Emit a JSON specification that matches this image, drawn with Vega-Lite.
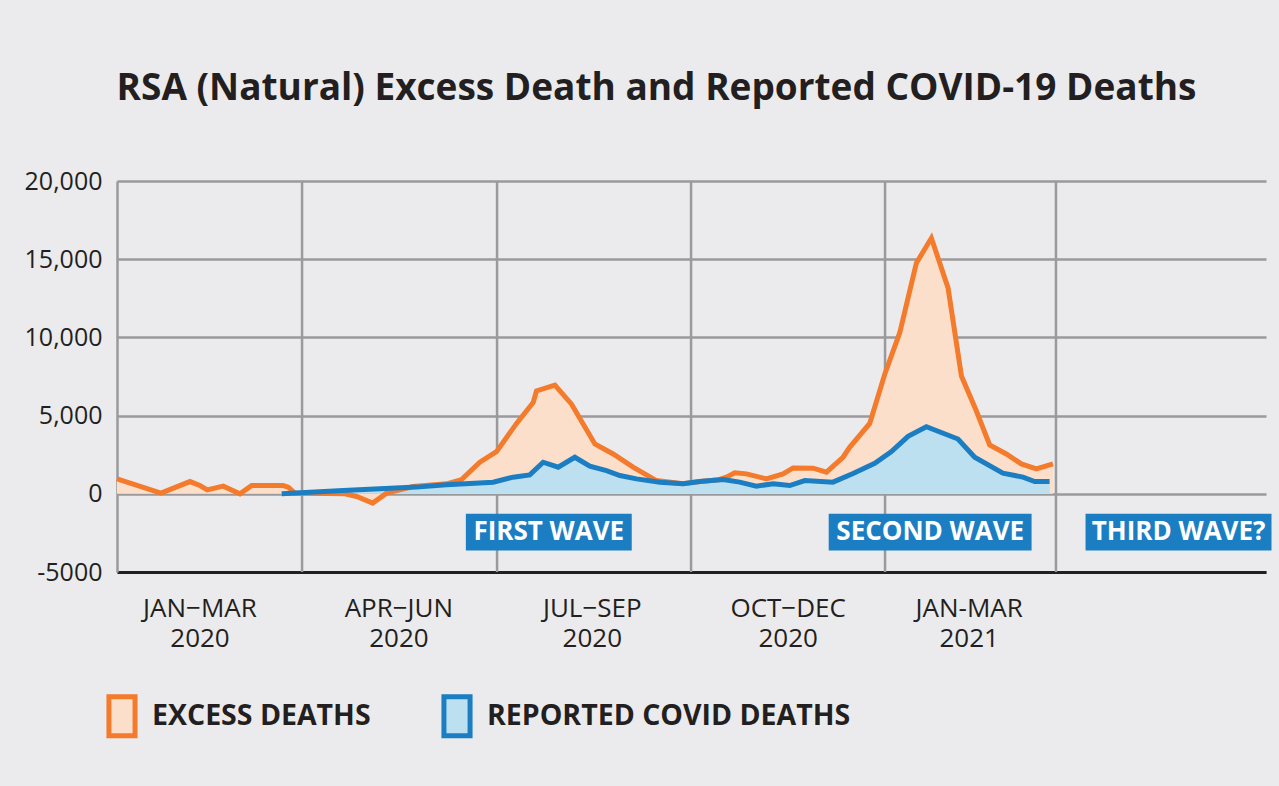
{
  "$schema": "https://vega.github.io/schema/vega-lite/v6.json",
  "width": 1149,
  "height": 391,
  "autosize": "none",
  "padding": {"left": 117, "top": 181, "right": 13, "bottom": 214},
  "background": "#ebebed",
  "view": {"stroke": null},
  "config": {"font": "Open Sans"},
  "title": {
    "text": "RSA (Natural) Excess Death and Reported COVID-19 Deaths",
    "font": "Open Sans",
    "fontSize": 37,
    "fontWeight": "bold",
    "color": "#231f20",
    "anchor": "middle",
    "dx": -35,
    "offset": 61
  },
  "datasets": {
    "series": [
      {"series": "EXCESS DEATHS", "x": 0, "y": 955},
      {"series": "EXCESS DEATHS", "x": 2.96, "y": 45},
      {"series": "EXCESS DEATHS", "x": 4.91, "y": 783},
      {"series": "EXCESS DEATHS", "x": 5.58, "y": 529},
      {"series": "EXCESS DEATHS", "x": 6.07, "y": 255},
      {"series": "EXCESS DEATHS", "x": 7.15, "y": 490},
      {"series": "EXCESS DEATHS", "x": 8.27, "y": 0},
      {"series": "EXCESS DEATHS", "x": 9.06, "y": 529},
      {"series": "EXCESS DEATHS", "x": 11.18, "y": 529},
      {"series": "EXCESS DEATHS", "x": 11.52, "y": 427},
      {"series": "EXCESS DEATHS", "x": 11.97, "y": 45},
      {"series": "EXCESS DEATHS", "x": 15.33, "y": 0},
      {"series": "EXCESS DEATHS", "x": 16.12, "y": -172},
      {"series": "EXCESS DEATHS", "x": 17.2, "y": -592},
      {"series": "EXCESS DEATHS", "x": 18.14, "y": 45},
      {"series": "EXCESS DEATHS", "x": 19.91, "y": 465},
      {"series": "EXCESS DEATHS", "x": 22.17, "y": 637},
      {"series": "EXCESS DEATHS", "x": 23.18, "y": 911},
      {"series": "EXCESS DEATHS", "x": 24.41, "y": 2019},
      {"series": "EXCESS DEATHS", "x": 25.53, "y": 2694},
      {"series": "EXCESS DEATHS", "x": 26.88, "y": 4500},
      {"series": "EXCESS DEATHS", "x": 28.0, "y": 5841},
      {"series": "EXCESS DEATHS", "x": 28.22, "y": 6580},
      {"series": "EXCESS DEATHS", "x": 29.46, "y": 6943},
      {"series": "EXCESS DEATHS", "x": 30.58, "y": 5733},
      {"series": "EXCESS DEATHS", "x": 32.15, "y": 3185},
      {"series": "EXCESS DEATHS", "x": 33.38, "y": 2548},
      {"series": "EXCESS DEATHS", "x": 34.72, "y": 1701},
      {"series": "EXCESS DEATHS", "x": 36.29, "y": 847},
      {"series": "EXCESS DEATHS", "x": 38.08, "y": 637},
      {"series": "EXCESS DEATHS", "x": 39.21, "y": 783},
      {"series": "EXCESS DEATHS", "x": 40.5, "y": 900},
      {"series": "EXCESS DEATHS", "x": 41.0, "y": 1064},
      {"series": "EXCESS DEATHS", "x": 41.56, "y": 1338},
      {"series": "EXCESS DEATHS", "x": 42.35, "y": 1274},
      {"series": "EXCESS DEATHS", "x": 43.69, "y": 955},
      {"series": "EXCESS DEATHS", "x": 44.81, "y": 1274},
      {"series": "EXCESS DEATHS", "x": 45.48, "y": 1656},
      {"series": "EXCESS DEATHS", "x": 46.83, "y": 1637},
      {"series": "EXCESS DEATHS", "x": 47.73, "y": 1382},
      {"series": "EXCESS DEATHS", "x": 48.84, "y": 2338},
      {"series": "EXCESS DEATHS", "x": 49.29, "y": 2975},
      {"series": "EXCESS DEATHS", "x": 50.64, "y": 4500},
      {"series": "EXCESS DEATHS", "x": 51.65, "y": 7644},
      {"series": "EXCESS DEATHS", "x": 52.66, "y": 10300},
      {"series": "EXCESS DEATHS", "x": 53.78, "y": 14759},
      {"series": "EXCESS DEATHS", "x": 54.79, "y": 16352},
      {"series": "EXCESS DEATHS", "x": 55.91, "y": 13167},
      {"series": "EXCESS DEATHS", "x": 56.81, "y": 7536},
      {"series": "EXCESS DEATHS", "x": 57.81, "y": 5306},
      {"series": "EXCESS DEATHS", "x": 58.71, "y": 3121},
      {"series": "EXCESS DEATHS", "x": 59.83, "y": 2548},
      {"series": "EXCESS DEATHS", "x": 60.84, "y": 1911},
      {"series": "EXCESS DEATHS", "x": 61.85, "y": 1592},
      {"series": "EXCESS DEATHS", "x": 62.97, "y": 1911},
      {"series": "REPORTED COVID DEATHS", "x": 11.08, "y": 0},
      {"series": "REPORTED COVID DEATHS", "x": 15.22, "y": 210},
      {"series": "REPORTED COVID DEATHS", "x": 20.15, "y": 427},
      {"series": "REPORTED COVID DEATHS", "x": 22.17, "y": 573},
      {"series": "REPORTED COVID DEATHS", "x": 25.31, "y": 745},
      {"series": "REPORTED COVID DEATHS", "x": 26.65, "y": 1064},
      {"series": "REPORTED COVID DEATHS", "x": 27.77, "y": 1210},
      {"series": "REPORTED COVID DEATHS", "x": 28.67, "y": 2019},
      {"series": "REPORTED COVID DEATHS", "x": 29.68, "y": 1701},
      {"series": "REPORTED COVID DEATHS", "x": 30.8, "y": 2338},
      {"series": "REPORTED COVID DEATHS", "x": 31.81, "y": 1765},
      {"series": "REPORTED COVID DEATHS", "x": 32.93, "y": 1484},
      {"series": "REPORTED COVID DEATHS", "x": 33.83, "y": 1166},
      {"series": "REPORTED COVID DEATHS", "x": 34.95, "y": 955},
      {"series": "REPORTED COVID DEATHS", "x": 36.52, "y": 745},
      {"series": "REPORTED COVID DEATHS", "x": 38.08, "y": 637},
      {"series": "REPORTED COVID DEATHS", "x": 39.21, "y": 783},
      {"series": "REPORTED COVID DEATHS", "x": 40.77, "y": 911},
      {"series": "REPORTED COVID DEATHS", "x": 41.89, "y": 745},
      {"series": "REPORTED COVID DEATHS", "x": 43.01, "y": 490},
      {"series": "REPORTED COVID DEATHS", "x": 44.14, "y": 637},
      {"series": "REPORTED COVID DEATHS", "x": 45.26, "y": 529},
      {"series": "REPORTED COVID DEATHS", "x": 46.27, "y": 847},
      {"series": "REPORTED COVID DEATHS", "x": 48.17, "y": 745},
      {"series": "REPORTED COVID DEATHS", "x": 49.52, "y": 1300},
      {"series": "REPORTED COVID DEATHS", "x": 50.98, "y": 1956},
      {"series": "REPORTED COVID DEATHS", "x": 52.1, "y": 2694},
      {"series": "REPORTED COVID DEATHS", "x": 53.22, "y": 3676},
      {"series": "REPORTED COVID DEATHS", "x": 54.45, "y": 4287},
      {"series": "REPORTED COVID DEATHS", "x": 56.58, "y": 3504},
      {"series": "REPORTED COVID DEATHS", "x": 57.7, "y": 2338},
      {"series": "REPORTED COVID DEATHS", "x": 59.6, "y": 1319},
      {"series": "REPORTED COVID DEATHS", "x": 60.95, "y": 1064},
      {"series": "REPORTED COVID DEATHS", "x": 61.74, "y": 783},
      {"series": "REPORTED COVID DEATHS", "x": 62.74, "y": 783}
    ],
    "quarters": [
      {"x": 12.45}, {"x": 25.57}, {"x": 38.62}, {"x": 51.67}, {"x": 63.17}
    ],
    "waves": [
      {"label": "FIRST WAVE", "x": 23.47, "x2": 34.63, "xc": 29.05},
      {"label": "SECOND WAVE", "x": 47.88, "x2": 61.53, "xc": 54.71},
      {"label": "THIRD WAVE?", "x": 65.16, "x2": 77.67, "xc": 71.42}
    ]
  },
  "layer": [
    {
      "data": {"name": "quarters"},
      "mark": {"type": "rule", "color": "#9a9a9c", "strokeWidth": 2.5},
      "encoding": {
        "x": {
          "field": "x",
          "type": "quantitative",
          "scale": {"domain": [0, 77.3], "nice": false, "zero": false},
          "axis": {
            "orient": "bottom",
            "title": null,
            "values": [5.55, 18.93, 31.94, 45.12, 57.3],
            "labelExpr": "datum.value < 10 ? ['JAN−MAR','2020'] : datum.value < 25 ? ['APR−JUN','2020'] : datum.value < 38 ? ['JUL−SEP','2020'] : datum.value < 50 ? ['OCT−DEC','2020'] : ['JAN-MAR','2021']",
            "grid": false,
            "ticks": false,
            "domain": true,
            "domainColor": "#231f20",
            "domainWidth": 3,
            "labelFont": "Open Sans",
            "labelFontSize": 26,
            "labelColor": "#231f20",
            "labelPadding": 23,
            "labelLineHeight": 30,
            "labelBaseline": "top",
            "labelFlush": false,
            "labelOverlap": false
          }
        },
        "y": {
          "datum": -5000,
          "type": "quantitative",
          "scale": {"domain": [-5000, 20000], "nice": false},
          "axis": {
            "title": null,
            "values": [-5000, 0, 5000, 10000, 15000, 20000],
            "labelExpr": "datum.value == -5000 ? '-5000' : format(datum.value, ',')",
            "grid": true,
            "gridColor": "#9a9a9c",
            "gridWidth": 2.5,
            "domain": true,
            "domainColor": "#9a9a9c",
            "domainWidth": 2.5,
            "ticks": false,
            "labelFont": "Open Sans",
            "labelFontSize": 25,
            "labelColor": "#231f20",
            "labelPadding": 15
          }
        },
        "y2": {"datum": 20000}
      }
    },
    {
      "data": {"name": "series"},
      "mark": {"type": "area", "opacity": 1},
      "encoding": {
        "x": {"field": "x", "type": "quantitative"},
        "y": {"field": "y", "type": "quantitative", "stack": null},
        "fill": {
          "field": "series",
          "type": "nominal",
          "scale": {"domain": ["EXCESS DEATHS", "REPORTED COVID DEATHS"], "range": ["#fcdfca", "#bde0f0"]},
          "legend": {
            "title": null,
            "orient": "none",
            "direction": "horizontal",
            "legendX": -17,
            "legendY": 513,
            "symbolType": "M-0.67,-1H0.67V1H-0.67Z",
            "symbolSize": 1521,
            "symbolStrokeWidth": 5,
            "symbolOffset": 0,
            "labelFont": "Open Sans",
            "labelFontSize": 28.5,
            "labelFontWeight": "bold",
            "labelColor": "#231f20",
            "labelOffset": 8,
            "labelLimit": 0,
            "columnPadding": 62,
            "padding": 0,
            "encode": {
              "symbols": {
                "update": {
                  "stroke": {"signal": "datum.value === 'EXCESS DEATHS' ? '#f47a2c' : '#1b7ec3'"},
                  "strokeWidth": {"value": 5},
                  "opacity": {"value": 1}
                }
              }
            }
          }
        }
      }
    },
    {
      "data": {"name": "series"},
      "mark": {"type": "line", "strokeWidth": 5, "strokeJoin": "miter"},
      "encoding": {
        "x": {"field": "x", "type": "quantitative"},
        "y": {"field": "y", "type": "quantitative"},
        "stroke": {
          "field": "series",
          "type": "nominal",
          "scale": {"domain": ["EXCESS DEATHS", "REPORTED COVID DEATHS"], "range": ["#f47a2c", "#1b7ec3"]},
          "legend": null
        }
      }
    },
    {
      "data": {"name": "waves"},
      "mark": {"type": "rect", "color": "#1b7ec3"},
      "encoding": {
        "x": {"field": "x", "type": "quantitative"},
        "x2": {"field": "x2"},
        "y": {"datum": -1274},
        "y2": {"datum": -3631}
      }
    },
    {
      "data": {"name": "waves"},
      "mark": {"type": "text", "color": "white", "font": "Open Sans", "fontSize": 26, "fontWeight": "bold", "align": "center", "baseline": "middle"},
      "encoding": {
        "x": {"field": "xc", "type": "quantitative"},
        "y": {"datum": -2452},
        "text": {"field": "label"}
      }
    }
  ]
}
